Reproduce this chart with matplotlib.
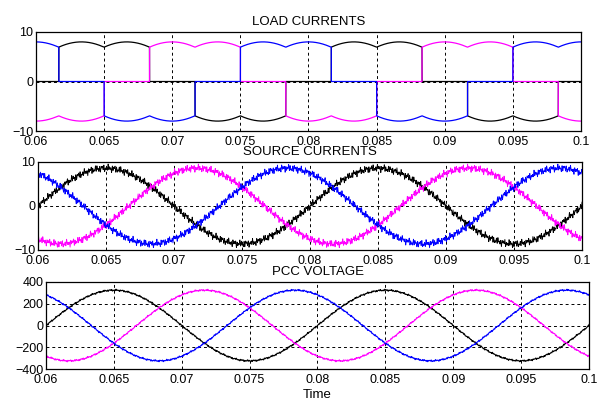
import numpy as np
import matplotlib
matplotlib.use("Agg")
import matplotlib.pyplot as plt

plt.rcParams["font.family"] = ["Liberation Sans", "DejaVu Sans"]

# ---- data ----
t_start, t_end = 0.06, 0.1
freq = 50.0                                  # supply frequency (Hz)
phase_colors = ["black", "#ff00ff", "#0000ff"]
phase_shift_deg = [0.0, -120.0, 120.0]       # black, magenta, blue

# load currents: conduction intervals (s) per phase, flat-top level 8 A with 6-pulse ripple
load_peak = 8.0
load_ripple_peak_time = 0.06333              # time of a ripple crest
load_pos = [
    [(0.06167, 0.06833), (0.08167, 0.08833)],
    [(0.06833, 0.07500), (0.08833, 0.09500)],
    [(0.06000, 0.06167), (0.07500, 0.08167), (0.09500, 0.10000)],
]
load_neg = [
    [(0.07167, 0.07833), (0.09167, 0.09833)],
    [(0.06000, 0.06500), (0.07833, 0.08500), (0.09833, 0.10000)],
    [(0.06500, 0.07167), (0.08500, 0.09167)],
]

# source currents: sinusoid amplitude and switching ripple band
src_amp = 8.6
src_ripple = [0.45, 0.3, 0.25]
# PCC voltage
pcc_amp = 325.0
pcc_ripple = [4.0, 3.0, 3.0]

titles = ["LOAD CURRENTS", "SOURCE CURRENTS", "PCC VOLTAGE"]
xticks = [0.06, 0.065, 0.07, 0.075, 0.08, 0.085, 0.09, 0.095, 0.1]
xtick_labels = ["0.06", "0.065", "0.07", "0.075", "0.08", "0.085", "0.09", "0.095", "0.1"]
yticks = [[-10, 0, 10], [-10, 0, 10], [-400, -200, 0, 200, 400]]
ylims = [(-10, 10), (-10, 10), (-400, 400)]

t = np.linspace(t_start, t_end, 20001)


def ripple_band(tt, amps):
    # switching ripple of the hysteresis controller (a few carrier components)
    tri = 2 * np.abs(2 * ((tt * 9700.0) % 1.0) - 1) - 1
    return (amps[0] * tri
            + amps[1] * np.sin(2 * np.pi * 6310.0 * tt + 0.7)
            + amps[2] * np.sin(2 * np.pi * 2270.0 * tt + 1.9))


def load_current(tt, pos, neg):
    phi = ((tt - load_ripple_peak_time) * 300.0 + 0.5) % 1.0 - 0.5
    env = load_peak * np.cos(np.deg2rad(phi * 60.0))
    i = np.zeros_like(tt)
    for a, b in pos:
        m = (tt >= a) & (tt <= b)
        i[m] = env[m]
    for a, b in neg:
        m = (tt >= a) & (tt <= b)
        i[m] = -env[m]
    return i


fig = plt.figure(figsize=(6.04, 4.00), dpi=100)
ax1 = fig.add_axes([36 / 604, 1 - 131 / 400, 545 / 604, 99 / 400])
ax2 = fig.add_axes([38 / 604, 1 - 250 / 400, 544 / 604, 88 / 400])
ax3 = fig.add_axes([46 / 604, 1 - 369 / 400, 543 / 604, 87 / 400])

# load currents
for k in range(3):
    ax1.plot(t, load_current(t, load_pos[k], load_neg[k]), color=phase_colors[k], lw=0.9)

# source currents
w = 2 * np.pi * freq * (t - t_start)
for k in range(3):
    i_s = src_amp * np.sin(w + np.deg2rad(phase_shift_deg[k]))
    ax2.plot(t, i_s + ripple_band(t + 0.0013 * k, src_ripple), color=phase_colors[k], lw=0.6)

# PCC voltage
for k in range(3):
    v = pcc_amp * np.sin(w + np.deg2rad(phase_shift_deg[k]))
    ax3.plot(t, v + ripple_band(t + 0.0021 * k, pcc_ripple), color=phase_colors[k], lw=0.8)

for ax, title, yt, yl in zip([ax1, ax2, ax3], titles, yticks, ylims):
    ax.set_xlim(t_start, t_end)
    ax.set_ylim(*yl)
    ax.set_xticks(xticks)
    ax.set_xticklabels(xtick_labels)
    ax.set_yticks(yt)
    ax.tick_params(direction="in", length=0, labelsize=9, pad=2)
    ax.tick_params(axis="x", pad=3.5)
    ax.grid(True, color="black", linestyle=(0, (3, 3)), linewidth=0.7)
    ax.set_title(title, fontsize=9.5, pad=5)
    for s in ax.spines.values():
        s.set_linewidth(0.9)

ax3.set_xlabel("Time", fontsize=9.5, labelpad=2)

fig.savefig("out.png", dpi=100)
